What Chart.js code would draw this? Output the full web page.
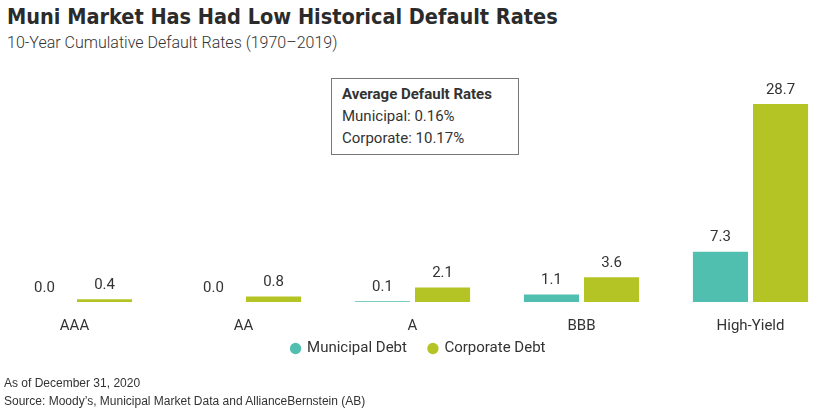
<!DOCTYPE html>
<html>
<head>
<meta charset="utf-8">
<script src="https://cdn.jsdelivr.net/npm/chart.js@4.4.0/dist/chart.umd.min.js"></script>
<style>
  html, body { margin: 0; padding: 0; background: #fff; }
  body { width: 840px; height: 409px; position: relative; overflow: hidden; color: #333; }
  #title { position: absolute; left: 7px; top: 4px; font: bold 21.5px "Liberation Sans Narrow", "DejaVu Sans Condensed", sans-serif; color: #2b2b2b; white-space: nowrap; }
  #subtitle { position: absolute; left: 7px; top: 33px; font: 300 16px Roboto, sans-serif; color: #333; white-space: nowrap; }
  #box { position: absolute; left: 331px; top: 78px; width: 186px; height: 75px; border: 1.5px solid #777; }
  #box div { position: absolute; left: 10px; font: 15px Roboto, sans-serif; color: #333; white-space: nowrap; }
  #foot { position: absolute; left: 4px; top: 374px; font: 12px "Liberation Sans", sans-serif; color: #333; line-height: 18px; }
  #wrap { position: absolute; left: -10px; top: 80px; width: 845px; height: 327px; }
</style>
</head>
<body>
<div id="title">Muni Market Has Had Low Historical Default Rates</div>
<div id="subtitle">10-Year Cumulative Default Rates (1970–2019)</div>
<div id="box">
  <div style="top:6px;font-weight:bold">Average Default Rates</div>
  <div style="top:28px">Municipal: 0.16%</div>
  <div style="top:50px">Corporate: 10.17%</div>
</div>
<div id="wrap"><canvas id="grafico"></canvas></div>
<div id="foot">As of December 31, 2020<br>Source: Moody’s, Municipal Market Data and AllianceBernstein (AB)</div>
<script>
const categorias = ["AAA", "AA", "A", "BBB", "High-Yield"];
const municipal = [0.0, 0.0, 0.1, 1.1, 7.3];
const corporativo = [0.4, 0.8, 2.1, 3.6, 28.7];

const etiquetas = {
    id: "etiquetas",
    afterDatasetsDraw(chart){
        const ctx = chart.ctx;
        ctx.save();
        ctx.font = "15px Roboto, sans-serif";
        ctx.fillStyle = "#333";
        ctx.textAlign = "center";
        ctx.textBaseline = "middle";
        chart.data.datasets.forEach(function(ds, i){
            chart.getDatasetMeta(i).data.forEach(function(bar, j){
                ctx.fillText(ds.data[j].toFixed(1), bar.x, bar.y - 14);
            });
        });
        ctx.restore();
    }
};

// sube la leyenda un poco, mas cerca de las etiquetas del eje
const moverLeyenda = {
    id: "moverLeyenda",
    afterLayout(chart){
        const l = chart.legend;
        l.top -= 31; l.bottom -= 31;
        l.left += 6; l.right += 6;
    }
};

new Chart(document.getElementById("grafico"), {
    type: "bar",
    data: {
        labels: categorias,
        datasets: [
            { label: "Municipal Debt", data: municipal, backgroundColor: "#50BFAF" },
            { label: "Corporate Debt", data: corporativo, backgroundColor: "#B3C424" }
        ]
    },
    options: {
        responsive: true,
        maintainAspectRatio: false,
        animation: false,
        categoryPercentage: 0.711,
        barPercentage: 0.917,
        layout: { padding: { top: 15, bottom: 10, left: 0, right: 0 } },
        scales: {
            x: {
                grid: { display: false, drawTicks: false },
                border: { display: false },
                ticks: { padding: 15, color: "#333", font: { family: "Roboto", size: 15 } }
            },
            y: { display: false, min: 0, max: 30 }
        },
        plugins: {
            legend: {
                position: "bottom",
                labels: {
                    usePointStyle: true, pointStyle: "circle", boxWidth: 8, boxHeight: 8,
                    padding: 22, color: "#333", font: { family: "Roboto", size: 15 }
                }
            },
            tooltip: { enabled: false }
        }
    },
    plugins: [etiquetas, moverLeyenda]
});
</script>
</body>
</html>
